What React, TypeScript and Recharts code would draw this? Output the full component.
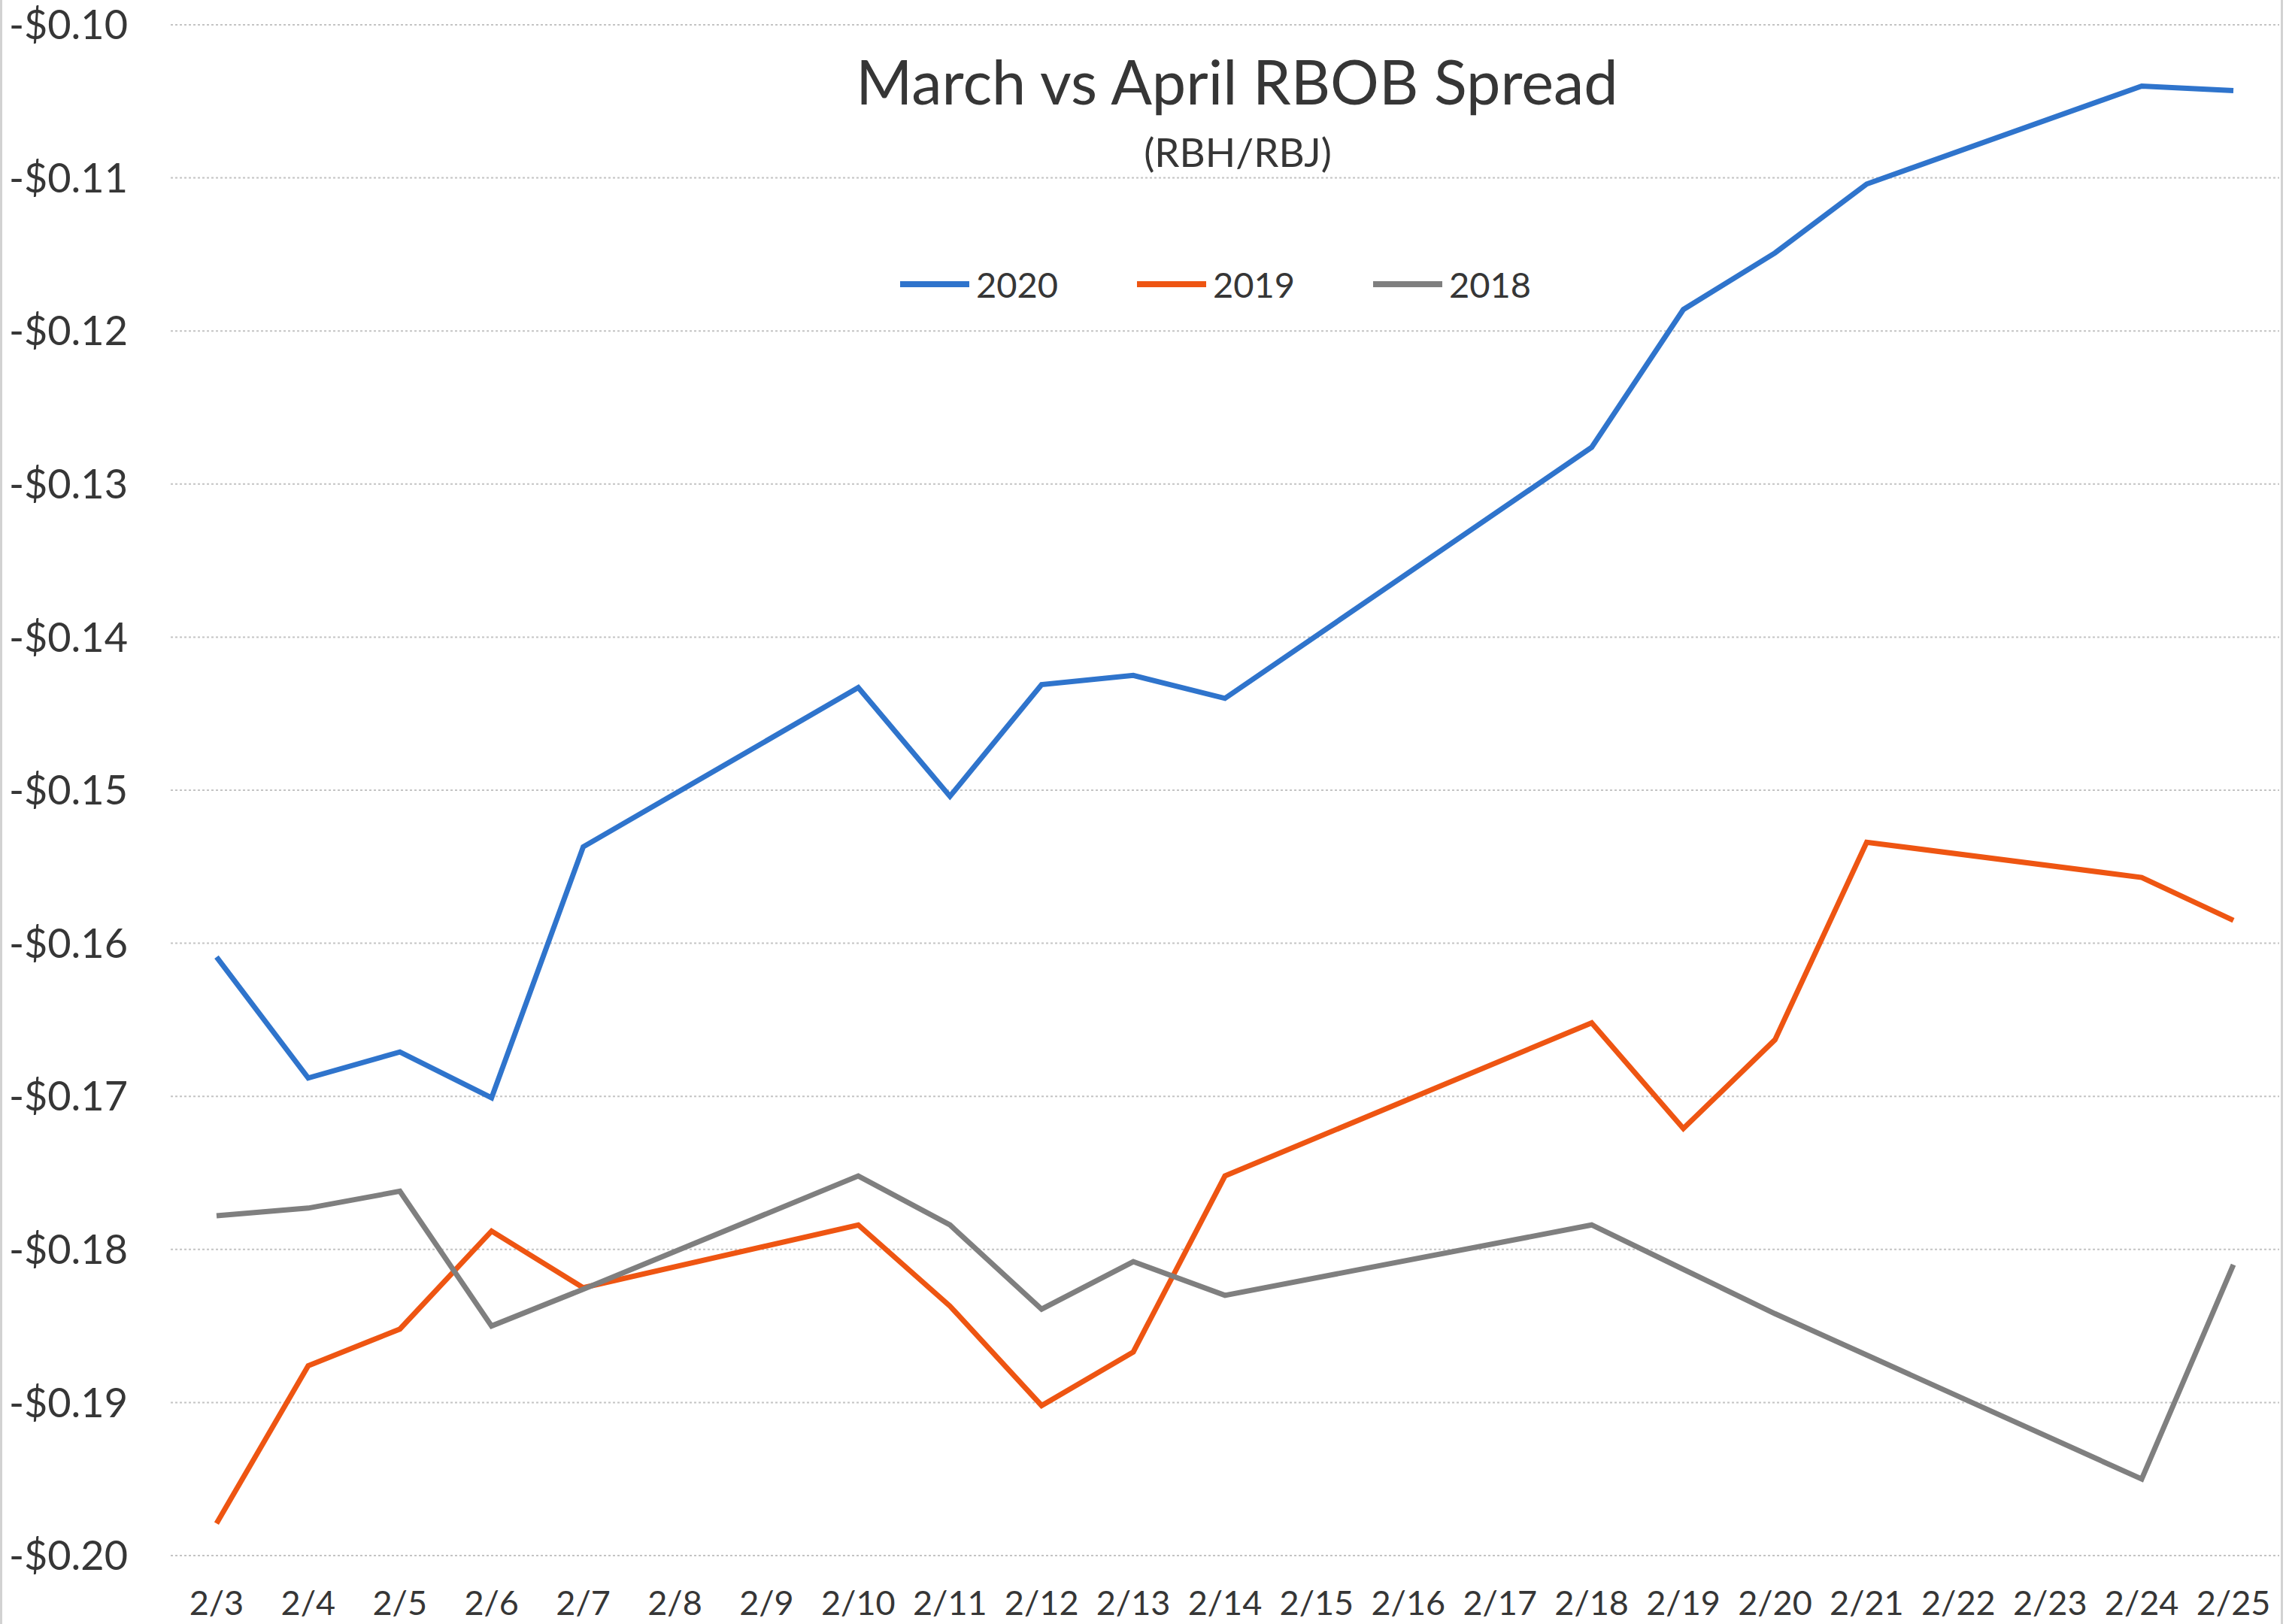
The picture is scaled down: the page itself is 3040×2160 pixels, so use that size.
import { LineChart, Line, XAxis, YAxis, CartesianGrid } from "recharts";

const dates = [
  "2/3", "2/4", "2/5", "2/6", "2/7", "2/8", "2/9", "2/10", "2/11", "2/12", "2/13", "2/14",
  "2/15", "2/16", "2/17", "2/18", "2/19", "2/20", "2/21", "2/22", "2/23", "2/24", "2/25",
];

// null = no trading that day (weekends / holiday), lines bridge the gap
const spread2020 = [
  -0.1609, -0.1688, -0.1671, -0.1701, -0.1537, null, null, -0.1433, -0.1504, -0.1431, -0.1425, -0.144,
  null, null, null, -0.1276, -0.1186, -0.1149, -0.1104, null, null, -0.104, -0.1043,
];
const spread2019 = [
  -0.1979, -0.1876, -0.1852, -0.1788, -0.1825, null, null, -0.1784, -0.1837, -0.1902, -0.1867, -0.1752,
  null, null, null, -0.1652, -0.1721, -0.1663, -0.1534, null, null, -0.1557, -0.1585,
];
const spread2018 = [
  -0.1778, -0.1773, -0.1762, -0.185, -0.1826, null, null, -0.1752, -0.1784, -0.1839, -0.1808, -0.183,
  null, null, null, -0.1784, -0.1813, -0.1842, -0.1869, null, null, -0.195, -0.181,
];

const yTicks = [-0.2, -0.19, -0.18, -0.17, -0.16, -0.15, -0.14, -0.13, -0.12, -0.11, -0.1];

const series = [
  { key: "s2020", name: "2020", color: "#2f74cc" },
  { key: "s2019", name: "2019", color: "#ee5512" },
  { key: "s2018", name: "2018", color: "#7f7f7f" },
];

const rows = dates.map((d, i) => ({
  date: d,
  s2020: spread2020[i],
  s2019: spread2019[i],
  s2018: spread2018[i],
}));

const W = 3040;
const H = 2160;
const M = { top: 33, right: 9, bottom: 0, left: 0 };
const Y_W = 227;
const PLOT_W = W - M.left - M.right - Y_W;
const FONT = "Lato, 'Open Sans', sans-serif";
const TEXT = "#363636";

const fmt = (v: number) => `-$${Math.abs(v).toFixed(2)}`;

// little dotted marks hanging under the top axis, at category boundaries
function BoundaryTick(props: any) {
  const { x, y, index } = props;
  const half = PLOT_W / dates.length / 2;
  const mark = (px: number) => (
    <line x1={px} x2={px} y1={y} y2={y + 12} stroke="#c4c4c4" strokeWidth={2} strokeDasharray="2 2" />
  );
  return (
    <g>
      {mark(x - half)}
      {index === dates.length - 1 ? mark(x + half) : null}
    </g>
  );
}

const legendLeft = [1197, 1512, 1826];

export default function App() {
  return (
    <div style={{ position: "absolute", left: 0, top: 0, width: W, height: H, background: "#fff", fontFamily: FONT }}>
      <LineChart width={W} height={H} data={rows} margin={M}>
        <CartesianGrid vertical={false} stroke="#c4c4c4" strokeWidth={2} strokeDasharray="3 3" />
        <XAxis
          dataKey="date"
          scale="band"
          interval={0}
          height={91}
          axisLine={false}
          tickLine={false}
          tickSize={0}
          tickMargin={47}
          tick={{ fontSize: 45, fill: TEXT, fontFamily: FONT }}
        />
        <XAxis
          xAxisId="top"
          dataKey="date"
          scale="band"
          orientation="top"
          interval={0}
          height={0}
          axisLine={false}
          tickLine={false}
          tickSize={0}
          tickMargin={0}
          tick={<BoundaryTick />}
        />
        <YAxis
          width={Y_W}
          domain={[-0.2, -0.1]}
          ticks={yTicks}
          allowDataOverflow
          axisLine={false}
          tickLine={false}
          tickSize={0}
          tickMargin={57}
          tickFormatter={fmt}
          tick={{ fontSize: 54, fill: TEXT, fontFamily: FONT }}
        />
        {series.map((s) => (
          <Line
            key={s.key}
            type="linear"
            dataKey={s.key}
            name={s.name}
            stroke={s.color}
            strokeWidth={7}
            dot={false}
            activeDot={false}
            connectNulls
            isAnimationActive={false}
          />
        ))}
      </LineChart>

      <div
        style={{
          position: "absolute", left: 1645, top: 67, transform: "translateX(-50%)",
          fontSize: 81, lineHeight: "81px", color: TEXT, whiteSpace: "nowrap",
        }}
      >
        March vs April RBOB Spread
      </div>
      <div
        style={{
          position: "absolute", left: 1646, top: 175, transform: "translateX(-50%)",
          fontSize: 53, lineHeight: "53px", color: TEXT, whiteSpace: "nowrap",
        }}
      >
        (RBH/RBJ)
      </div>

      {series.map((s, i) => (
        <div
          key={s.key}
          style={{
            position: "absolute", left: legendLeft[i], top: 354, height: 48,
            display: "flex", alignItems: "center", whiteSpace: "nowrap",
          }}
        >
          <div style={{ width: 92, height: 8, background: s.color, marginRight: 9 }} />
          <span style={{ fontSize: 47, lineHeight: "48px", color: TEXT }}>{s.name}</span>
        </div>
      ))}

      <div style={{ position: "absolute", left: 0, top: 0, width: 3, height: H, background: "#d2d2d2" }} />
      <div style={{ position: "absolute", left: 3033, top: 0, width: 3, height: H, background: "#d2d2d2" }} />
    </div>
  );
}
